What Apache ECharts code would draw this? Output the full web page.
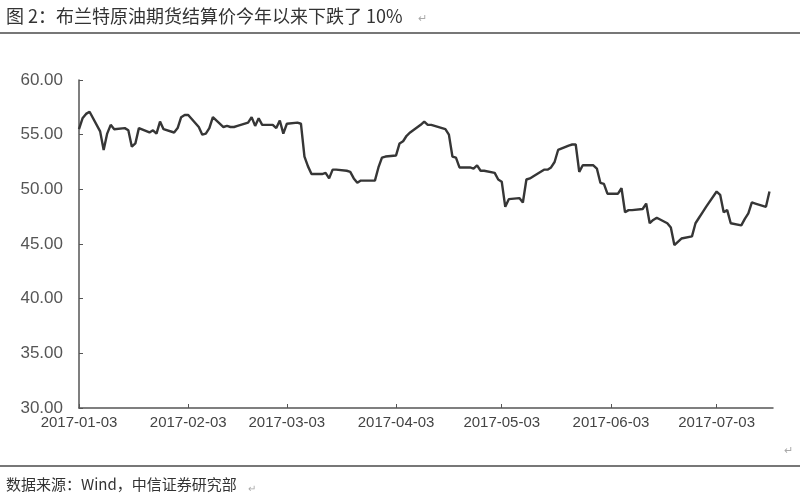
<!DOCTYPE html>
<html><head><meta charset="utf-8">
<script src="https://cdn.jsdelivr.net/npm/echarts@6/dist/echarts.min.js"></script>
<style>html,body{margin:0;padding:0;background:#fff}#c{width:800px;height:500px}</style>
</head><body><div id="c"></div>
<script>
const dates = [
'2017-01-03','2017-01-04','2017-01-05','2017-01-06','2017-01-09','2017-01-10','2017-01-11','2017-01-12','2017-01-13',
'2017-01-16','2017-01-17','2017-01-18','2017-01-19','2017-01-20','2017-01-23','2017-01-24','2017-01-25','2017-01-26','2017-01-27',
'2017-01-30','2017-01-31','2017-02-01','2017-02-02','2017-02-03','2017-02-06','2017-02-07','2017-02-08','2017-02-09','2017-02-10',
'2017-02-13','2017-02-14','2017-02-15','2017-02-16','2017-02-17','2017-02-20','2017-02-21','2017-02-22','2017-02-23','2017-02-24',
'2017-02-27','2017-02-28','2017-03-01','2017-03-02','2017-03-03','2017-03-06','2017-03-07','2017-03-08','2017-03-09','2017-03-10',
'2017-03-13','2017-03-14','2017-03-15','2017-03-16','2017-03-17','2017-03-20','2017-03-21','2017-03-22','2017-03-23','2017-03-24',
'2017-03-27','2017-03-28','2017-03-29','2017-03-30','2017-03-31','2017-04-03','2017-04-04','2017-04-05','2017-04-06','2017-04-07',
'2017-04-10','2017-04-11','2017-04-12','2017-04-13','2017-04-17','2017-04-18','2017-04-19','2017-04-20','2017-04-21',
'2017-04-24','2017-04-25','2017-04-26','2017-04-27','2017-04-28','2017-05-01','2017-05-02','2017-05-03','2017-05-04','2017-05-05',
'2017-05-08','2017-05-09','2017-05-10','2017-05-11','2017-05-12','2017-05-15','2017-05-16','2017-05-17','2017-05-18','2017-05-19',
'2017-05-22','2017-05-23','2017-05-24','2017-05-25','2017-05-26','2017-05-29','2017-05-30','2017-05-31','2017-06-01','2017-06-02',
'2017-06-05','2017-06-06','2017-06-07','2017-06-08','2017-06-09','2017-06-12','2017-06-13','2017-06-14','2017-06-15','2017-06-16',
'2017-06-19','2017-06-20','2017-06-21','2017-06-22','2017-06-23','2017-06-26','2017-06-27','2017-06-28','2017-06-29','2017-06-30',
'2017-07-03','2017-07-04','2017-07-05','2017-07-06','2017-07-07','2017-07-10','2017-07-11','2017-07-12','2017-07-13','2017-07-14',
'2017-07-17','2017-07-18'
];
const prices = [
55.5,56.5,56.9,57.1,55.3,53.6,55.1,55.9,55.5,
55.6,55.4,53.9,54.2,55.6,55.2,55.4,55.1,56.2,55.5,
55.2,55.6,56.6,56.8,56.8,55.7,55.0,55.1,55.6,56.6,
55.7,55.8,55.7,55.7,55.8,56.1,56.6,55.8,56.5,55.9,
55.9,55.6,56.3,55.1,56.0,56.1,56.0,53.0,52.1,51.4,
51.4,51.5,51.0,51.8,51.8,51.7,51.6,51.0,50.6,50.8,
50.8,50.8,52.0,52.9,53.0,53.1,54.2,54.4,54.9,55.2,
55.9,56.2,55.9,55.9,55.5,55.0,53.0,52.9,52.0,
52.0,51.9,52.2,51.7,51.7,51.5,50.9,50.7,48.4,49.1,
49.2,48.8,50.9,51.0,51.2,51.8,51.8,52.0,52.5,53.6,
54.0,54.1,54.1,51.6,52.2,52.2,51.9,50.6,50.5,49.6,
49.6,50.1,47.9,48.1,48.1,48.2,48.7,46.9,47.2,47.4,
46.9,46.5,44.9,45.2,45.5,45.7,46.9,47.4,47.9,48.4,
49.8,49.5,47.9,48.1,46.9,46.7,47.3,47.8,48.8,48.7,
48.4,49.8
];
const tickDates = ['2017-01-03','2017-02-03','2017-03-03','2017-04-03','2017-05-03','2017-06-03','2017-07-03'];
const axisStart = '2017-01-03';
const axisEnd = '2017-07-19';
const yTicks = [30,35,40,45,50,55,60];
const titleText = '图 2：布兰特原油期货结算价今年以来下跌了 10%';
const sourceText = '数据来源：Wind，中信证券研究部';

function toTs(s){const p=s.split('-').map(Number);return new Date(p[0],p[1]-1,p[2]).getTime();}
const seriesData = dates.map((d,i)=>[toTs(d),prices[i]]);
const tickTs = tickDates.map(toTs);

const chart = echarts.init(document.getElementById('c'));
chart.setOption({
  animation:false,
  backgroundColor:'#fff',
  grid:{left:79,right:27,top:80,bottom:92,containLabel:false},
  xAxis:{
    type:'time',
    min:toTs(axisStart), max:toTs(axisEnd),
    axisLine:{lineStyle:{color:'#555',width:1.5}},
    axisTick:{show:true,inside:true,length:4,customValues:tickTs,lineStyle:{color:'#555'}},
    axisLabel:{customValues:tickTs,formatter:'{yyyy}-{MM}-{dd}',color:'#444',fontSize:15,
      fontFamily:'Liberation Sans, sans-serif',margin:7,hideOverlap:false},
    splitLine:{show:false}
  },
  yAxis:{
    type:'value', min:yTicks[0], max:yTicks[yTicks.length-1], interval:5,
    axisLine:{show:true,lineStyle:{color:'#555',width:1.5}},
    axisTick:{show:true,inside:true,length:4,lineStyle:{color:'#555'}},
    axisLabel:{formatter:v=>v.toFixed(2),color:'#555',fontSize:17,
      fontFamily:'Liberation Sans, sans-serif',margin:16},
    splitLine:{show:false}
  },
  series:[{
    type:'line', data:seriesData, showSymbol:false, symbol:'none',
    lineStyle:{color:'#363636',width:2.4}
  }],
  graphic:[
    {type:'text',left:6,top:7,style:{text:titleText,fill:'#333',font:'18px "Noto Sans CJK SC", sans-serif'}},
    {type:'text',left:418,top:12,style:{text:'↵',fill:'#aaa',font:'11px "Noto Sans CJK SC", sans-serif'}},
    {type:'rect',shape:{x:0,y:32,width:800,height:2},style:{fill:'#777'}},
    {type:'text',left:784,top:444,style:{text:'↵',fill:'#aaa',font:'11px "Noto Sans CJK SC", sans-serif'}},
    {type:'rect',shape:{x:0,y:465,width:800,height:2},style:{fill:'#777'}},
    {type:'text',left:6,top:477,style:{text:sourceText,fill:'#333',font:'15px "Noto Sans CJK SC", sans-serif'}},
    {type:'text',left:248,top:483,style:{text:'↵',fill:'#aaa',font:'10px "Noto Sans CJK SC", sans-serif'}}
  ]
});
</script></body></html>
